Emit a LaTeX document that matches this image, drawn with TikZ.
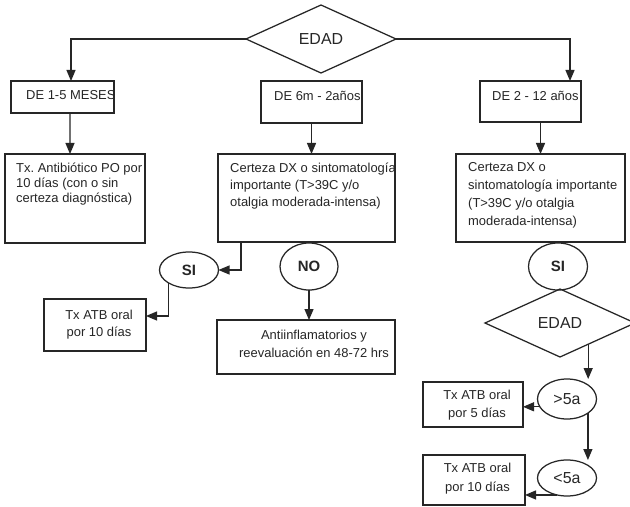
\documentclass[tikz,border=0pt]{standalone}
\usepackage{fontspec}
\setmainfont{Liberation Sans}
\usetikzlibrary{shapes.geometric,arrows.meta,calc}

\definecolor{ink}{HTML}{262626}
\frenchspacing

\begin{document}
\begin{tikzpicture}[
  x=1bp, y=-1bp,
  wire/.style={draw=ink, line width=1.25bp},
  arr/.style={wire, -{Triangle[length=11bp,width=9bp]}},
  box/.style={rectangle, draw=ink, line width=1.25bp, inner sep=0pt, outer sep=0pt},
  oval/.style={ellipse, draw=ink, line width=1.25bp, inner sep=0pt, outer sep=0pt,
               text=ink, font=\fontsize{15}{17}\selectfont\bfseries},
  ageoval/.style={oval, font=\fontsize{16}{18}\selectfont},
  choice/.style={diamond, draw=ink, line width=1.25bp, inner sep=0pt, outer sep=0pt,
                 minimum width=150bp, minimum height=68bp, text=ink,
                 font=\fontsize{16}{18}\selectfont},
  note/.style={inner sep=0pt, anchor=north west, align=left, text=ink,
               execute at begin node={\frenchspacing\rule{0pt}{10bp}}},
  notec/.style={note, anchor=north, align=center},
]
\fill[white] (0,0) rectangle (630,507);
\useasboundingbox (0,0) rectangle (630,507);

% decision nodes
\node[choice] (d1) at (321,39) {EDAD};
\node[choice] (d2) at (560,323) {EDAD};

% age groups
\node[box, minimum width=103bp, minimum height=32bp] (b1) at (62.5,97) {};
\node[box, minimum width=101bp, minimum height=42bp] (b2) at (311.5,102) {};
\node[box, minimum width=101bp, minimum height=41bp] (b3) at (530.5,101.5) {};
\node[note, font=\fontsize{13}{15}\selectfont] (t1) at (26,89.7) {DE 1-5 MESES};
\node[note, font=\fontsize{13}{15}\selectfont] (t2) at (274,90) {DE 6m - 2años};
\node[note, font=\fontsize{13}{15}\selectfont] (t3) at (492,90) {DE 2 - 12 años};

% criteria / treatment boxes
\node[box, minimum width=140bp, minimum height=89bp] (b4) at (75,198.5) {};
\node[box, minimum width=177bp, minimum height=88bp] (b5) at (306.5,198) {};
\node[box, minimum width=169bp, minimum height=88bp] (b6) at (540.5,198) {};
\node[note, font=\fontsize{13}{15}\selectfont] (t4) at (16,162.5)
  {Tx.\ Antibiótico PO por\\10 días (con o sin\\certeza diagnóstica)};
\node[note, font=\fontsize{13}{17}\selectfont] (t5) at (230,162.5)
  {Certeza DX o sintomatología\\importante (T>39C y/o\\otalgia moderada-intensa)};
\node[note, font=\fontsize{13}{18}\selectfont] (t6) at (468,162.5)
  {Certeza DX o\\sintomatología importante\\(T>39C y/o otalgia\\moderada-intensa)};

% answers
\node[oval, minimum width=59bp, minimum height=36bp] (e1) at (189,270) {SI};
\node[oval, minimum width=58bp, minimum height=47bp] (e2) at (309,266.5) {NO};
\node[oval, minimum width=59bp, minimum height=47bp] (e3) at (558,266.5) {SI};
\node[ageoval, minimum width=59bp, minimum height=40bp] (e4) at (567,399) {>5a};
\node[ageoval, minimum width=59bp, minimum height=36bp] (e5) at (567,478) {<5a};

% outcomes
\node[box, minimum width=102bp, minimum height=52bp] (b8) at (95,325) {};
\node[box, minimum width=178bp, minimum height=54bp] (b7) at (306,347) {};
\node[box, minimum width=100bp, minimum height=45bp] (b9) at (473,404.5) {};
\node[box, minimum width=102bp, minimum height=50bp] (b10) at (474,480) {};
\node[notec, font=\fontsize{13}{17}\selectfont] (t8) at (99,309.5)
  {Tx ATB oral\\por 10 días};
\node[notec, font=\fontsize{13}{18}\selectfont] (t7) at (314,329.5)
  {Antiinflamatorios y\\reevaluación en 48-72 hrs};
\node[notec, font=\fontsize{13}{18}\selectfont] (t9) at (477,389.5)
  {Tx ATB oral\\por 5 días};
\node[notec, font=\fontsize{13}{19}\selectfont] (t10) at (477.5,462.5)
  {Tx ATB oral\\por 10 días};

% connectors
\draw[arr] (d1.west) -| ([xshift=8.5bp]b1.north);
\draw[arr] (d1.east) -| ([xshift=39.5bp]b3.north);
\draw[arr] ([xshift=7.5bp]b1.south) -- ([xshift=-5bp]b4.north);
\draw[arr] (b2.south) -- (b2.south |- b5.north);
\draw[arr] (b6.north |- b3.south) -- (b6.north);
\draw[arr] ([xshift=47bp]b5.south west) -- ([xshift=23bp]b5.south west) |- (e1.east);
\draw[arr] (e2.south) -- (e2.south |- b7.north);
\draw[arr] (e1.south west) |- ([yshift=9bp]b8.east);
\draw[arr] (d2.-37) -- (d2.-37 |- e4.north);
\draw[arr] (e4.-34) -- (e4.-34 |- e5.north);
\draw[arr] (e4.196) -- (e4.196 -| b9.east);
\draw[arr] (e5.-120) -- (e5.-120 -| b10.east);
\end{tikzpicture}
\end{document}
